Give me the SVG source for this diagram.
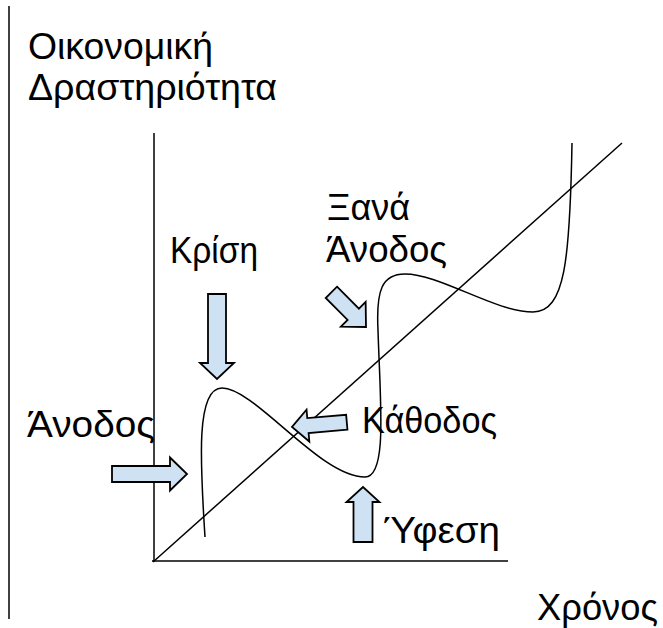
<svg xmlns="http://www.w3.org/2000/svg" width="663" height="628" viewBox="0 0 663 628">
<style>
.ln{stroke:#000;stroke-width:1.5;fill:none}
.arr{fill:#cfe2f3;stroke:#000;stroke-width:1.8;stroke-linejoin:miter}
.t{font-family:"Liberation Sans",Arial,sans-serif;font-size:36px;fill:#000}
</style>
<rect width="663" height="628" fill="#fff"/>
<g id="axes">
<line class="ln" x1="9" y1="6" x2="9" y2="619"/>
<line class="ln" x1="154" y1="133" x2="154" y2="562"/>
<line class="ln" x1="152" y1="561" x2="508" y2="561"/>
<line class="ln" x1="153" y1="562" x2="622" y2="143"/>
</g>
<g id="curve">
<path class="ln" d="M205,537 C200,460 196,388 222,388 C255,388 320,477 365,477 C388,477 380,400 378,330 C376,290 382,274 405,274 C440,274 495,312 533,312 C565,312 570,260 572,143"/>
</g>
<g id="arrows">
<path id="arrow-krisi" class="arr" transform="translate(217,379) rotate(90)" d="M-85,-9 H-16 V-17 L0,0 L-16,17 V9 H-85 Z"/>
<path id="arrow-anodos" class="arr" transform="translate(187,474)" d="M-75,-8 H-17 V-16.5 L0,0 L-17,16.5 V8 H-75 Z"/>
<path id="arrow-xana" class="arr" transform="translate(366,327) rotate(45)" d="M-49,-8 H-18 V-17.5 L0,0 L-18,17.5 V8 H-49 Z"/>
<path id="arrow-kathodos" class="arr" transform="translate(292,427) rotate(175)" d="M-55,-7.5 H-16 V-16 L0,0 L-16,16 V7.5 H-55 Z"/>
<path id="arrow-yfesi" class="arr" transform="translate(363,487) rotate(-90)" d="M-55,-9.5 H-15 V-16.5 L0,0 L-15,16.5 V9.5 H-55 Z"/>
</g>
<g id="label-y"><text class="t" x="28" y="59" textLength="185" lengthAdjust="spacingAndGlyphs">Οικονομική</text><text class="t" x="28" y="100" textLength="249" lengthAdjust="spacingAndGlyphs">Δραστηριότητα</text></g>
<g id="label-krisi"><text class="t" x="170" y="263" textLength="88" lengthAdjust="spacingAndGlyphs">Κρίση</text></g>
<g id="label-xana"><text class="t" x="327" y="220" textLength="83" lengthAdjust="spacingAndGlyphs">Ξανά</text><text class="t" x="326" y="262" textLength="121" lengthAdjust="spacingAndGlyphs">Άνοδος</text></g>
<g id="label-anodos"><text class="t" x="27" y="437" textLength="128" lengthAdjust="spacingAndGlyphs">Άνοδος</text></g>
<g id="label-kathodos"><text class="t" x="362" y="433" textLength="135" lengthAdjust="spacingAndGlyphs">Κάθοδος</text></g>
<g id="label-yfesi"><text class="t" x="383" y="543" textLength="117" lengthAdjust="spacingAndGlyphs">Ύφεση</text></g>
<g id="label-x"><text class="t" x="537" y="620" textLength="121" lengthAdjust="spacingAndGlyphs">Χρόνος</text></g>
</svg>
